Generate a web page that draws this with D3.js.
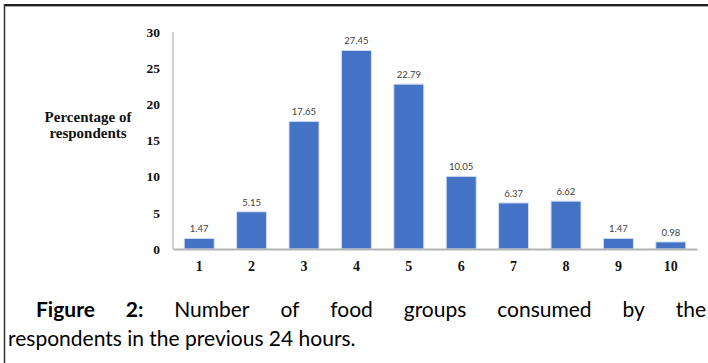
<!DOCTYPE html>
<html>
<head>
<meta charset="utf-8">
<script src="https://cdn.jsdelivr.net/npm/d3@7"></script>
<style>
  html, body { margin: 0; padding: 0; background: #fff; }
  svg { display: block; }
</style>
</head>
<body>
<svg id="chart" width="708" height="363"></svg>
<script>
// Number of food groups consumed and share of respondents (%)
const foodGroups = ["1", "2", "3", "4", "5", "6", "7", "8", "9", "10"];
const percentages = [1.47, 5.15, 17.65, 27.45, 22.79, 10.05, 6.37, 6.62, 1.47, 0.98];
const yTicks = [0, 5, 10, 15, 20, 25, 30];
const yTitleLines = ["Percentage of", "respondents"];
const captionLine1 = [["Figure", true], ["2:", true], ["Number", false], ["of", false], ["food", false], ["groups", false], ["consumed", false], ["by", false], ["the", false]];
const captionLine2 = "respondents in the previous 24 hours.";

const svg = d3.select("#chart");

// frame
svg.append("line").attr("x1", 4).attr("x2", 708).attr("y1", 5).attr("y2", 5)
  .attr("stroke", "#222").attr("stroke-width", 2);
svg.append("line").attr("x1", 4).attr("x2", 708).attr("y1", 6.5).attr("y2", 6.5)
  .attr("stroke", "#aaa").attr("stroke-width", 1);
svg.append("line").attr("x1", 4.5).attr("x2", 4.5).attr("y1", 4).attr("y2", 363)
  .attr("stroke", "#333").attr("stroke-width", 1.5);

const plot = { left: 173, right: 697, top: 32, bottom: 249 };

const x = d3.scaleBand().domain(foodGroups).range([plot.left, plot.right]).paddingInner(0.427).paddingOuter(0.2135);
const y = d3.scaleLinear().domain([0, 30]).range([plot.bottom, plot.top]);

const serif = "'Liberation Serif', 'Times New Roman', serif";

// y axis line
svg.append("line").attr("x1", plot.left).attr("x2", plot.left)
  .attr("y1", y(30)).attr("y2", y(0))
  .attr("stroke", "#c0c0c0").attr("stroke-width", 1.5);

// y tick labels
const yAxis = d3.axisLeft(y).tickValues(yTicks).tickSize(0).tickPadding(13);
const yg = svg.append("g").attr("transform", `translate(${plot.left},0)`).call(yAxis);
yg.select(".domain").remove();
yg.selectAll("text")
  .attr("font-family", serif)
  .attr("font-weight", "bold").attr("font-size", 13.5).attr("fill", "#111");

// y title
svg.append("g").selectAll("text").data(yTitleLines).join("text")
  .attr("x", 88).attr("y", (d, i) => 122 + i * 16)
  .attr("text-anchor", "middle")
  .attr("font-family", serif)
  .attr("font-weight", "bold").attr("font-size", 15).attr("fill", "#111")
  .text(d => d);

// bars
svg.append("g").selectAll("rect").data(percentages).join("rect")
  .attr("x", (d, i) => x(foodGroups[i]))
  .attr("y", d => y(d))
  .attr("width", x.bandwidth())
  .attr("height", d => y(0) - y(d))
  .attr("fill", "#4472c4")
  .attr("stroke", "#d6e0f2").attr("stroke-width", 1);

// value labels
svg.append("g").selectAll("text").data(percentages).join("text")
  .attr("x", (d, i) => x(foodGroups[i]) + x.bandwidth() / 2)
  .attr("y", d => y(d) - 6)
  .attr("text-anchor", "middle")
  .attr("font-family", "Lato, 'Open Sans', sans-serif")
  .attr("font-size", 9.5).attr("fill", "#404040")
  .text(d => d.toFixed(2));

// x axis
const xAxis = d3.axisBottom(x).tickSize(0).tickPadding(12);
const xg = svg.append("g").attr("transform", `translate(0,${plot.bottom})`).call(xAxis);
xg.select(".domain").attr("stroke", "#b4b4b4").attr("stroke-width", 2);
xg.selectAll("text")
  .attr("font-family", serif)
  .attr("font-weight", "bold").attr("font-size", 14).attr("fill", "#111");

// caption, first line justified between the indent and the right edge
const capFont = "Lato, 'Open Sans', sans-serif";
const capSize = 21;
const line1 = svg.append("g");
const words = line1.selectAll("text").data(captionLine1).join("text")
  .attr("y", 317)
  .attr("font-family", capFont).attr("font-size", capSize)
  .attr("font-weight", d => d[1] ? "bold" : "normal")
  .attr("fill", "#000")
  .text(d => d[0]);
const widths = [];
words.each(function () { widths.push(this.getComputedTextLength()); });
const startX = 36, endX = 706;
const gap = (endX - startX - d3.sum(widths)) / (widths.length - 1);
let cx = startX;
words.each(function (d, i) { d3.select(this).attr("x", cx); cx += widths[i] + gap; });

svg.append("text").attr("x", 8).attr("y", 346)
  .attr("font-family", capFont).attr("font-size", capSize).attr("fill", "#000")
  .text(captionLine2);
</script>
</body>
</html>
